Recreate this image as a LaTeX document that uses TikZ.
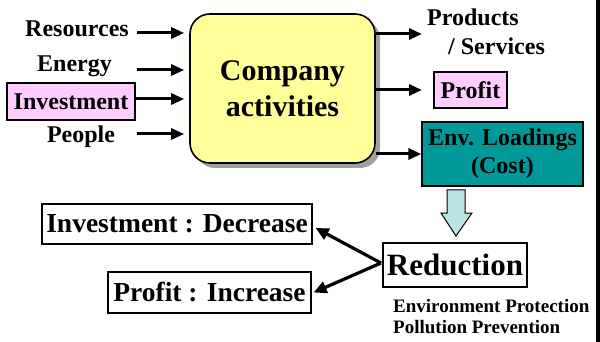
\documentclass[tikz,border=0pt]{standalone}
\usepackage{fontspec}
\usetikzlibrary{arrows.meta}
\newcommand\tnrb{\fontspec{Liberation Serif Bold}}
\definecolor{cyellow}{HTML}{FFFF99}
\definecolor{cpink}{HTML}{FFCCFF}
\definecolor{cteal}{HTML}{009999}
\definecolor{ccyan}{HTML}{BCE4E4}
\definecolor{cshadow}{HTML}{A0A0A0}
\tikzset{
  lbl/.style={inner sep=0pt, font=\fontsize{24}{28}\selectfont\tnrb},
  boxed/.style={draw, line width=1.3pt, inner sep=0pt, font=\fontsize{24}{28}\selectfont\tnrb},
  bigbox/.style={draw, line width=1.3pt, inner sep=0pt, fill=white, font=\fontsize{27.5}{32}\selectfont\tnrb},
  arr/.style={line width=3pt, -{Triangle[length=13pt,width=11pt]}},
  arr2/.style={line width=3.2pt, -{Triangle[length=13pt,width=12pt]}},
}
\begin{document}
\begin{tikzpicture}[x=1pt,y=-1pt]
\useasboundingbox (0,0) rectangle (600,342);
\fill[black] (596,0) rectangle (600,342);

% Company box with shadow
\fill[cshadow, rounded corners=20pt] (195,19) rectangle (380,168);
\node[draw, line width=1.6pt, fill=cyellow, rounded corners=20pt,
      minimum width=185pt, minimum height=149pt, inner sep=0pt,
      align=center, font=\fontsize{30}{36}\selectfont\tnrb]
      (comp) at (282.5,88.5) {Company\\activities};

% inputs
\node[lbl, anchor=base] (res) at (77,37) {Resources};
\node[lbl, anchor=base] (ene) at (74.5,72) {Energy};
\node[boxed, fill=cpink, minimum width=128pt, minimum height=37pt] (inv) at (71,101.5) {Investment};
\node[lbl, anchor=base] (peo) at (81,143) {People};

\coordinate (i1) at (137,33);
\coordinate (i2) at (137,70);
\coordinate (i3) at (inv.east |- 0,99);
\coordinate (i4) at (137,134);
\foreach \c in {i1,i2,i3,i4}
  \draw[arr] (\c) -- ([xshift=-5pt]comp.west |- \c);

% outputs
\node[lbl, anchor=base west] (prod) at (427,26) {Products};
\node[lbl, anchor=base west] (serv) at (448,55) {/ Services};
\node[boxed, fill=cpink, minimum width=73pt, minimum height=36pt] (prof) at (470.5,90) {Profit};
\node[boxed, fill=cteal, minimum width=161pt, minimum height=64pt, align=center] (env) at (502.5,154) {Env. Loadings\\(Cost)};

\coordinate (o1) at (422,34);
\coordinate (o2) at (422,90);
\draw[arr] (comp.east |- o1) -- (o1);
\draw[arr] (comp.east |- o2) -- (o2);
\draw[arr] (comp.east |- env.west) -- (env.west);

% block arrow down
\draw[line width=1pt, fill=ccyan]
  (447,190) -- (465,190) -- (465,213) -- (472,213) -- (456,236) -- (441,213) -- (447,213) -- cycle;

% Reduction
\node[bigbox, font=\fontsize{31}{36}\selectfont\tnrb, minimum width=144pt, minimum height=44pt] (red) at (455,265) {Reduction};
\node[anchor=base west, inner sep=0pt, font=\fontsize{19}{21}\selectfont\tnrb] (ep) at (393,312) {Environment Protection};
\node[anchor=base west, inner sep=0pt, font=\fontsize{19}{21}\selectfont\tnrb] (pp) at (393,333) {Pollution Prevention};

\node[bigbox, minimum width=270pt, minimum height=40pt] (dec) at (177,224) {Investment : Decrease};
\node[bigbox, minimum width=203pt, minimum height=41pt] (incr) at (209.5,292.5) {Profit : Increase};

\coordinate (rc) at (381,263);
\draw[arr2] (rc) -- ([shift={(3pt,-4pt)}]dec.east);
\draw[arr2] (rc) -- ([xshift=2pt]incr.east);
\end{tikzpicture}
\end{document}
